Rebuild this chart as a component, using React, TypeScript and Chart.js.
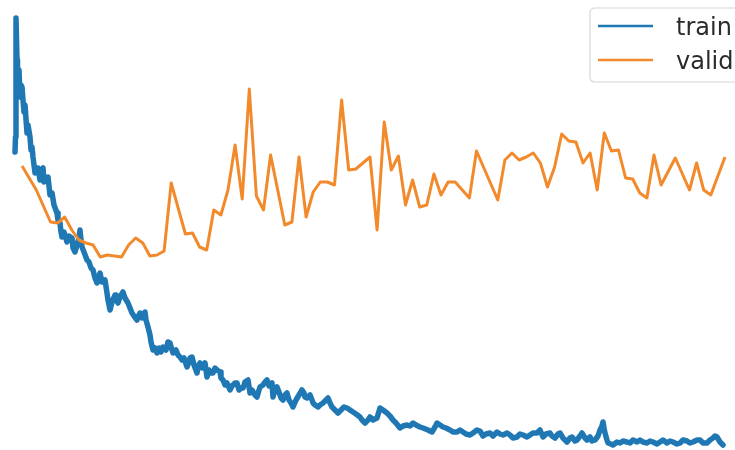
import React, { useEffect, useRef } from "react";
import { Chart, registerables } from "chart.js";

Chart.register(...registerables);

// Training loss (iteration, loss)
const trainIter: number[] = [
  0, 5, 10, 20, 25, 30, 40, 50, 60, 70, 80, 90, 100, 120, 130, 150, 160, 170, 180, 200,
  210, 230, 250, 260, 280, 290, 310, 330, 350, 370, 390, 420, 430, 450, 460, 470, 490, 520, 540, 570,
  580, 600, 620, 640, 650, 660, 670, 690, 720, 740, 760, 780, 800, 820, 840, 850, 870, 900, 920, 930,
  950, 970, 1000, 1010, 1030, 1050, 1080, 1100, 1130, 1150, 1170, 1190, 1220, 1240, 1250, 1270, 1300, 1310, 1330, 1350,
  1360, 1380, 1400, 1420, 1440, 1460, 1480, 1510, 1530, 1550, 1570, 1580, 1610, 1630, 1650, 1670, 1690, 1720, 1740, 1750,
  1770, 1790, 1820, 1830, 1850, 1870, 1900, 1910, 1920, 1940, 1960, 1980, 2000, 2020, 2050, 2060, 2080, 2100, 2120, 2150,
  2170, 2200, 2220, 2240, 2260, 2280, 2300, 2330, 2350, 2370, 2400, 2420, 2440, 2450, 2480, 2500, 2520, 2540, 2570, 2580,
  2600, 2620, 2640, 2660, 2680, 2700, 2720, 2740, 2760, 2780, 2810, 2840, 2870, 2890, 2900, 2920, 2950, 2970, 2980, 3000,
  3030, 3050, 3080, 3100, 3130, 3150, 3170, 3200, 3230, 3260, 3290, 3320, 3350, 3380, 3410, 3450, 3470, 3500, 3530, 3550,
  3580, 3620, 3650, 3680, 3720, 3750, 3780, 3810, 3850, 3880, 3920, 3950, 3980, 4010, 4050, 4080, 4130, 4170, 4200, 4220,
  4250, 4280, 4310, 4350, 4380, 4420, 4450, 4480, 4510, 4550, 4580, 4620, 4650, 4680, 4710, 4750, 4780, 4820, 4850, 4880,
  4920, 4950, 4980, 5020, 5050, 5080, 5120, 5150, 5180, 5220, 5250, 5280, 5310, 5350, 5370, 5400, 5430, 5450, 5480, 5520,
  5550, 5570, 5600, 5620, 5650, 5670, 5700, 5720, 5750, 5770, 5800, 5830, 5850, 5870, 5880, 5890, 5900, 5920, 5930, 5960,
  5980, 6020, 6050, 6080, 6120, 6150, 6180, 6220, 6250, 6280, 6320, 6350, 6380, 6420, 6450, 6480, 6520, 6550, 6580, 6620,
  6650, 6680, 6720, 6750, 6780, 6820, 6850, 6880, 6920, 6950, 6980, 7000, 7020, 7050, 7080,
];
const trainLoss: number[] = [
  2.98, 3.13, 4.32, 3.9, 3.73, 3.7, 3.8, 3.53, 3.65, 3.63, 3.5, 3.38, 3.45, 3.17, 3.25, 3.13, 3.0, 3.03, 2.93, 2.77,
  2.82, 2.82, 2.7, 2.8, 2.82, 2.68, 2.72, 2.73, 2.55, 2.57, 2.45, 2.37, 2.3, 2.27, 2.18, 2.13, 2.18, 2.08, 2.14, 2.12,
  2.02, 1.98, 2.05, 2.12, 2.2, 2.1, 2.03, 1.98, 1.9, 1.88, 1.82, 1.8, 1.72, 1.67, 1.74, 1.77, 1.68, 1.7, 1.57, 1.5,
  1.4, 1.48, 1.55, 1.5, 1.47, 1.53, 1.58, 1.52, 1.47, 1.42, 1.37, 1.34, 1.3, 1.35, 1.37, 1.32, 1.38, 1.3, 1.23, 1.15,
  1.08, 1.0, 1.02, 0.97, 1.02, 0.98, 1.03, 1.0, 1.08, 1.07, 1.0, 0.97, 1.0, 0.95, 0.93, 0.9, 0.92, 0.83, 0.88, 0.92,
  0.93, 0.85, 0.77, 0.84, 0.87, 0.82, 0.87, 0.8, 0.73, 0.8, 0.77, 0.77, 0.82, 0.8, 0.78, 0.72, 0.7, 0.65, 0.67, 0.6,
  0.64, 0.67, 0.67, 0.6, 0.62, 0.62, 0.68, 0.7, 0.57, 0.6, 0.55, 0.53, 0.6, 0.63, 0.65, 0.68, 0.7, 0.64, 0.67, 0.53,
  0.6, 0.63, 0.58, 0.52, 0.5, 0.55, 0.57, 0.5, 0.47, 0.43, 0.5, 0.55, 0.6, 0.57, 0.53, 0.52, 0.55, 0.5, 0.47, 0.45,
  0.43, 0.45, 0.47, 0.49, 0.52, 0.47, 0.43, 0.4, 0.37, 0.4, 0.43, 0.42, 0.4, 0.38, 0.36, 0.33, 0.3, 0.27, 0.3, 0.33,
  0.3, 0.32, 0.42, 0.4, 0.37, 0.34, 0.3, 0.27, 0.22, 0.24, 0.25, 0.24, 0.27, 0.25, 0.23, 0.22, 0.2, 0.18, 0.23, 0.27,
  0.25, 0.23, 0.22, 0.2, 0.18, 0.18, 0.2, 0.18, 0.16, 0.15, 0.17, 0.2, 0.19, 0.14, 0.16, 0.17, 0.14, 0.18, 0.16, 0.15,
  0.17, 0.15, 0.12, 0.13, 0.16, 0.15, 0.13, 0.15, 0.17, 0.17, 0.2, 0.13, 0.16, 0.17, 0.14, 0.12, 0.16, 0.17, 0.12, 0.08,
  0.12, 0.13, 0.09, 0.1, 0.14, 0.17, 0.12, 0.1, 0.13, 0.09, 0.1, 0.14, 0.2, 0.24, 0.28, 0.22, 0.17, 0.1, 0.07, 0.06,
  0.05, 0.08, 0.07, 0.09, 0.08, 0.07, 0.1, 0.08, 0.1, 0.08, 0.07, 0.09, 0.08, 0.06, 0.08, 0.1, 0.07, 0.09, 0.08, 0.06,
  0.07, 0.1, 0.09, 0.07, 0.08, 0.1, 0.1, 0.07, 0.07, 0.1, 0.12, 0.14, 0.13, 0.08, 0.05,
];

// Validation loss per epoch
const validEpoch: number[] = [
  1, 3, 5, 6, 7, 8, 9, 10, 11, 12, 13, 15, 16, 17, 18, 19, 20, 21, 22, 24,
  25, 26, 27, 28, 29, 30, 31, 32, 33, 34, 35, 36, 38, 39, 40, 41, 42, 43, 44, 45,
  46, 47, 48, 50, 51, 52, 53, 54, 55, 56, 57, 58, 59, 60, 61, 62, 64, 65, 68, 69,
  70, 71, 72, 73, 74, 75, 76, 77, 78, 79, 80, 81, 82, 83, 84, 85, 86, 87, 88, 89,
  90, 91, 93, 95, 96, 97, 98, 100,
];
const validLoss: number[] = [
  2.84, 2.6, 2.28, 2.27, 2.33, 2.2, 2.1, 2.07, 2.05, 1.93, 1.95, 1.93, 2.05, 2.12, 2.07, 1.94, 1.95, 1.99, 2.67, 2.16,
  2.17, 2.03, 2.0, 2.4, 2.35, 2.6, 3.05, 2.51, 3.61, 2.54, 2.4, 2.95, 2.25, 2.28, 2.93, 2.33, 2.58, 2.68, 2.68, 2.65,
  3.5, 2.8, 2.81, 2.93, 2.2, 3.28, 2.8, 2.94, 2.45, 2.7, 2.43, 2.45, 2.76, 2.55, 2.68, 2.68, 2.52, 2.99, 2.5, 2.9,
  2.97, 2.9, 2.93, 2.97, 2.87, 2.63, 2.83, 3.16, 3.09, 3.08, 2.87, 2.97, 2.6, 3.17, 2.99, 3.0, 2.72, 2.71, 2.57, 2.52,
  2.95, 2.65, 2.92, 2.6, 2.87, 2.6, 2.55, 2.93,
];

const itersPerEpoch = 71;
const seriesNames = ["train", "valid"];
const colors = ["#1f77b4", "#f28a2c"];

const legendPlugin = {
  id: "mplLegend",
  afterDraw(chart: any) {
    const ctx = chart.ctx as CanvasRenderingContext2D;
    ctx.save();
    const x = 590, y = 8, w = 170, h = 74, r = 5;
    ctx.beginPath();
    ctx.moveTo(x + r, y);
    ctx.lineTo(x + w - r, y);
    ctx.quadraticCurveTo(x + w, y, x + w, y + r);
    ctx.lineTo(x + w, y + h - r);
    ctx.quadraticCurveTo(x + w, y + h, x + w - r, y + h);
    ctx.lineTo(x + r, y + h);
    ctx.quadraticCurveTo(x, y + h, x, y + h - r);
    ctx.lineTo(x, y + r);
    ctx.quadraticCurveTo(x, y, x + r, y);
    ctx.closePath();
    ctx.fillStyle = "rgba(255,255,255,0.85)";
    ctx.fill();
    ctx.strokeStyle = "#d6d6d6";
    ctx.lineWidth = 1.2;
    ctx.stroke();
    const rows = [26, 60];
    seriesNames.forEach((name, i) => {
      ctx.beginPath();
      ctx.moveTo(598, rows[i]);
      ctx.lineTo(653, rows[i]);
      ctx.strokeStyle = colors[i];
      ctx.lineWidth = 2.5;
      ctx.stroke();
      ctx.fillStyle = "#2b2b2b";
      ctx.font = '24px "DejaVu Sans"';
      ctx.textBaseline = "alphabetic";
      ctx.textAlign = "left";
      ctx.fillText(name, 676, rows[i] + 9);
    });
    ctx.restore();
  },
};

export default function App() {
  const canvasRef = useRef<HTMLCanvasElement | null>(null);

  useEffect(() => {
    if (!canvasRef.current) return;
    const trainData = trainIter.map((it, i) => ({ x: it, y: trainLoss[i] }));
    const validData = validEpoch.map((e, i) => ({ x: e * itersPerEpoch, y: validLoss[i] }));
    const chart = new Chart(canvasRef.current, {
      type: "line",
      data: {
        datasets: [
          {
            label: seriesNames[0],
            data: trainData,
            borderColor: colors[0],
            backgroundColor: colors[0],
            borderWidth: 5.5,
            pointRadius: 0,
            tension: 0,
            borderJoinStyle: "round",
            borderCapStyle: "round",
            order: 2,
          },
          {
            label: seriesNames[1],
            data: validData,
            borderColor: colors[1],
            backgroundColor: colors[1],
            borderWidth: 3,
            pointRadius: 0,
            tension: 0,
            borderJoinStyle: "round",
            order: 1,
          },
        ],
      },
      options: {
        animation: false,
        responsive: false,
        maintainAspectRatio: false,
        devicePixelRatio: 1,
        layout: { padding: 0 },
        scales: {
          x: { type: "linear", min: -150, max: 7200, display: false },
          y: { type: "linear", min: 0, max: 4.5, display: false },
        },
        plugins: {
          legend: { display: false },
          tooltip: { enabled: false },
        },
      },
      plugins: [legendPlugin],
    });
    return () => chart.destroy();
  }, []);

  return (
    <div style={{ position: "fixed", left: 0, top: 0, width: 735, height: 450, background: "#fff" }}>
      <canvas ref={canvasRef} width={735} height={450} />
    </div>
  );
}
